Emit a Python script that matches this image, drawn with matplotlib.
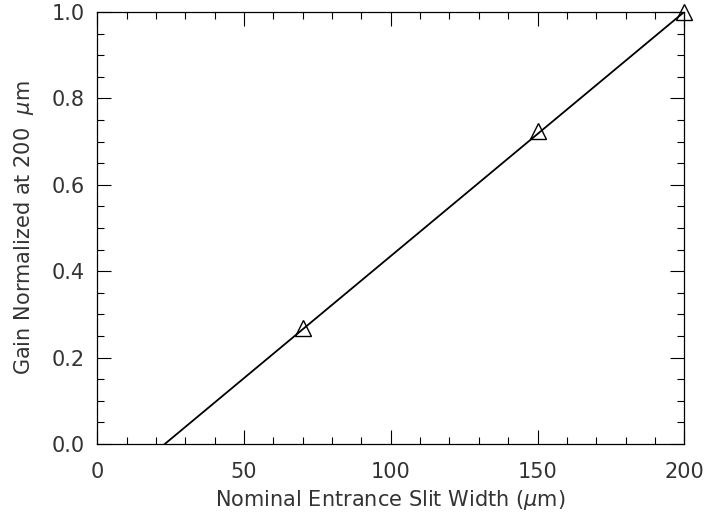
import numpy as np
import matplotlib
matplotlib.use("Agg")
import matplotlib.pyplot as plt
from matplotlib.ticker import MultipleLocator, FormatStrFormatter

# measured points (slit width in um, normalized gain)
slit_width = [70, 150, 200]
gain_norm = [0.268, 0.724, 1.0]

# fitted line end points
fit_x = [23, 200]
fit_y = [0.0, 1.0]

plt.rcParams['font.family'] = 'DejaVu Sans'
plt.rcParams['mathtext.fontset'] = 'dejavusans'

fig = plt.figure(figsize=(7.04, 5.17), dpi=100)
ax = fig.add_axes([0.138, 0.141, 0.834, 0.836])

ax.plot(fit_x, fit_y, color='black', lw=1.3)
ax.plot(slit_width, gain_norm, linestyle='none', marker='^', markersize=11,
        markerfacecolor='none', markeredgecolor='black', markeredgewidth=1.0,
        clip_on=False)

ax.set_xlim(0, 200)
ax.set_ylim(0, 1.0)
ax.xaxis.set_major_locator(MultipleLocator(50))
ax.xaxis.set_minor_locator(MultipleLocator(10))
ax.yaxis.set_major_locator(MultipleLocator(0.2))
ax.yaxis.set_minor_locator(MultipleLocator(0.05))
ax.yaxis.set_major_formatter(FormatStrFormatter('%.1f'))

ax.tick_params(which='both', direction='in', top=True, right=True,
               labelsize=15, width=0.8, colors='black', labelcolor='#333333')
ax.tick_params(which='major', length=10)
ax.tick_params(axis='x', which='major', pad=13)
ax.tick_params(axis='y', which='major', pad=9)
ax.tick_params(which='minor', length=5)
for s in ax.spines.values():
    s.set_linewidth(0.9)

ax.set_xlabel(r'Nominal Entrance Slit Width ($\mu$m)', fontsize=15,
              color='#333333', labelpad=4)
ax.set_ylabel(r'Gain Normalized at 200  $\mu$m', fontsize=15,
              color='#333333', labelpad=11)

fig.savefig('out.png', dpi=100)
